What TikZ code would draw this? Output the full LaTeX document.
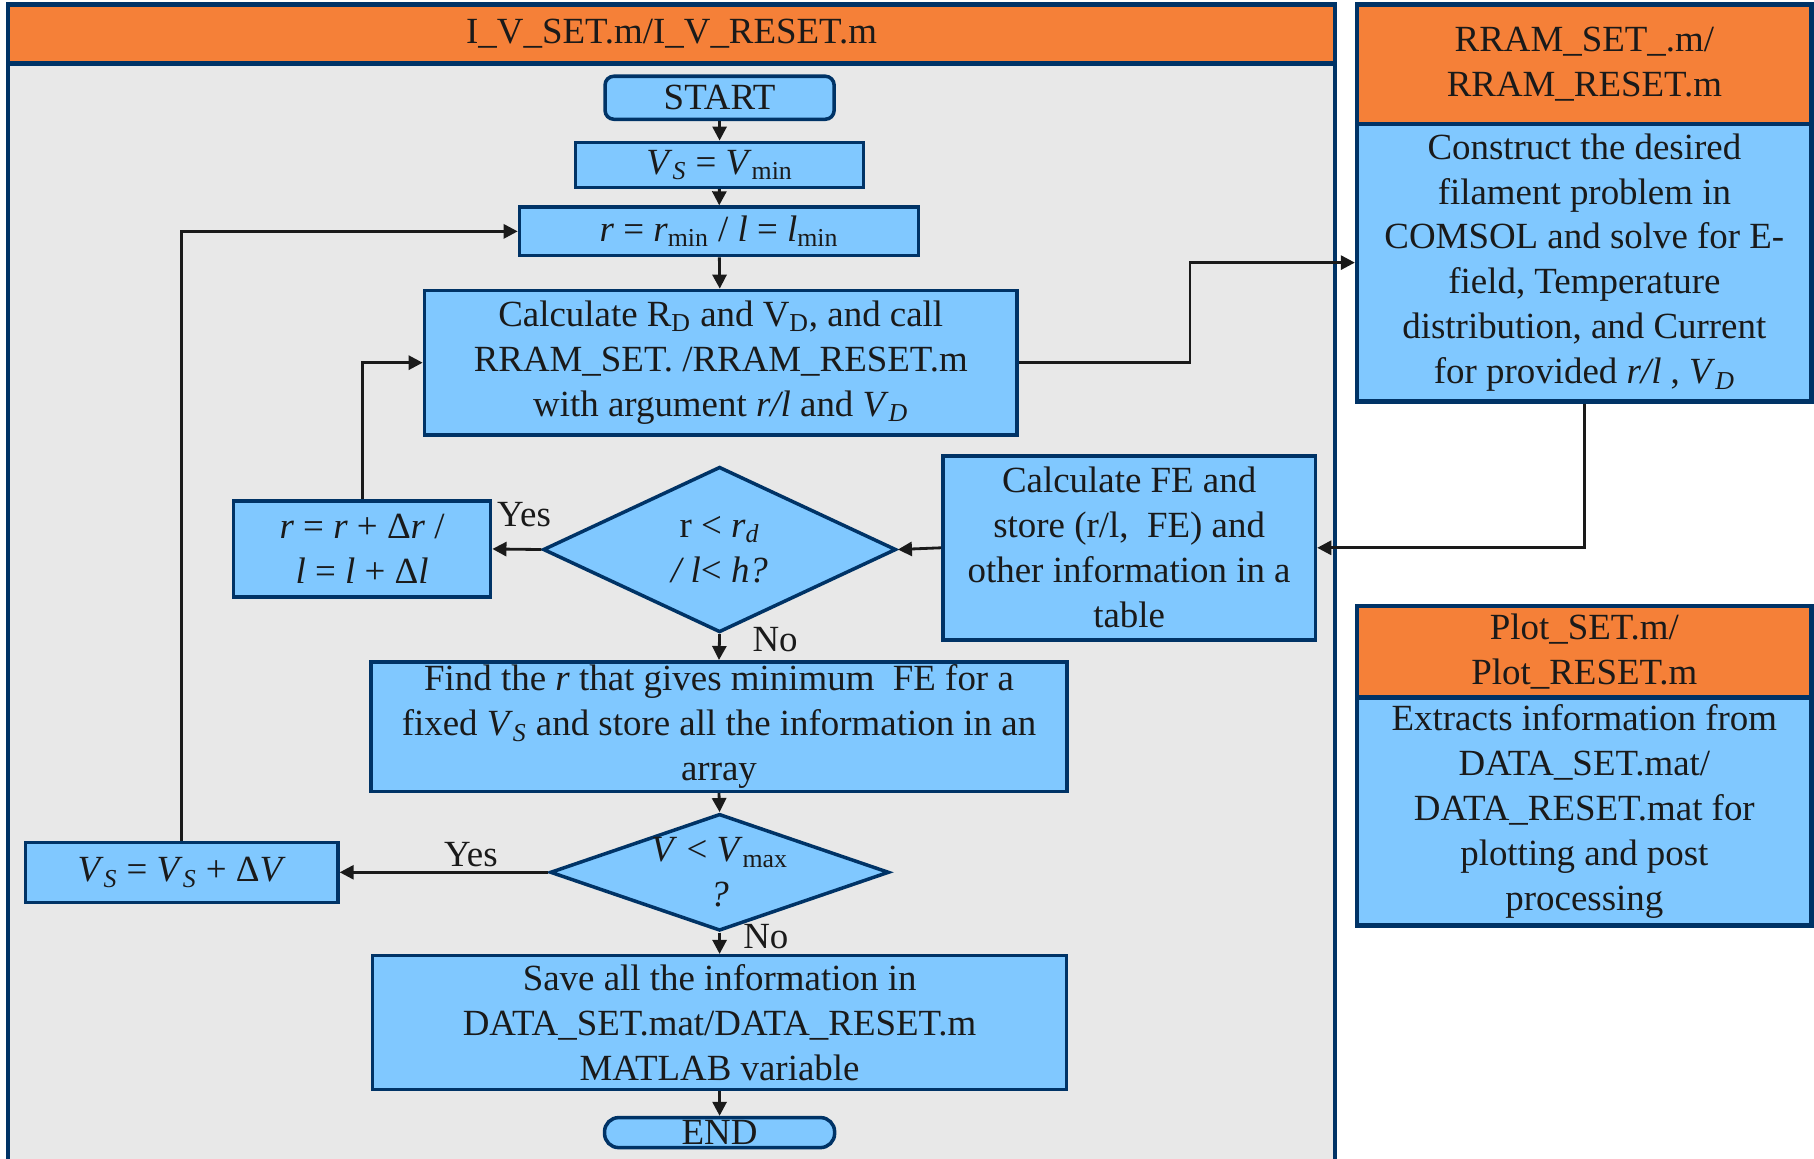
\documentclass[tikz,border=0pt]{standalone}
\usepackage{fontspec}
\setmainfont{Liberation Serif}
\usetikzlibrary{shapes.geometric,arrows.meta}
\definecolor{hdrorange}{RGB}{245,128,56}
\definecolor{boxblue}{RGB}{128,200,255}
\definecolor{edgeblue}{RGB}{0,51,102}
\definecolor{panelgray}{RGB}{232,232,232}
\definecolor{inkblack}{RGB}{26,26,26}
\newcommand\VS{\textit{V}\textsubscript{\textit{S}}}
\newcommand\VD{\textit{V}\textsubscript{\textit{D}}}

\begin{document}
\begin{tikzpicture}[x=0.023138cm, y=-0.023138cm,
    every node/.style={font=\fontsize{21}{25.6}\selectfont, text=inkblack},
    box/.style={draw=edgeblue, fill=boxblue, line width=2pt, rectangle, align=center, inner sep=0pt},
    headbox/.style={box, fill=hdrorange, line width=2.5pt},
    bodybox/.style={box, line width=2.5pt},
    decision/.style={box, diamond, aspect=2.2},
    arr/.style={draw=inkblack, line width=1.6pt, -{Triangle[length=8pt,width=8pt]}}]
    \useasboundingbox (0,0) rectangle (1568,1001);
    % main panel
    \draw[fill=panelgray, draw=edgeblue, line width=2.5pt] (7,55) rectangle (1154,1015);
    \node[headbox, minimum width=26.54cm, minimum height=1.18cm] (ivhead) at (580.5,29.5) {I\_V\_SET.m/I\_V\_RESET.m};
    % side panels
    \node[headbox, minimum width=9.09cm, minimum height=2.38cm] (rramh) at (1369.5,55.5) {RRAM\_SET\_.m/\\RRAM\_RESET.m};
    \node[bodybox, minimum width=9.09cm, minimum height=5.55cm] (rramb) at (1369.5,227) {Construct the desired\\filament problem in\\COMSOL and solve for E-\\field, Temperature\\distribution, and Current\\for provided \textit{r/l} , \VD};
    \node[headbox, minimum width=9.09cm, minimum height=1.83cm] (ploth) at (1369.5,563.5) {Plot\_SET.m/\\Plot\_RESET.m};
    \node[bodybox, minimum width=9.09cm, minimum height=4.56cm] (plotb) at (1369.5,701.5) {Extracts information from\\DATA\_SET.mat/\\DATA\_RESET.mat for\\plotting and post\\processing};
    % flow
    \node[box, rounded corners=5pt, minimum width=4.58cm, minimum height=0.86cm] (start) at (622,84.5) {START};
    \node[box, minimum width=5.76cm, minimum height=0.90cm] (vmin) at (622,142.5) {\VS{} = \textit{V}\textsubscript{min}};
    \node[box, minimum width=7.98cm, minimum height=0.97cm] (rmin) at (621.5,200) {\textit{r} = \textit{r}\textsubscript{min} / \textit{l} = \textit{l}\textsubscript{min}};
    \node[box, minimum width=11.85cm, minimum height=2.89cm] (calc) at (623,313.5) {Calculate R\textsubscript{D} and V\textsubscript{D}, and call\\RRAM\_SET. /RRAM\_RESET.m\\with argument \textit{r/l} and \VD};
    \node[decision, minimum width=7.06cm, minimum height=3.31cm] (rtest) at (622,475) {r < \textit{r}\textsubscript{\textit{d}}\\\textit{/ l}< \textit{h?}};
    \node[box, minimum width=5.14cm, minimum height=1.92cm] (rinc) at (313,474.5) {\textit{r} = \textit{r} + Δ\textit{r} /\\\textit{l} = \textit{l} + Δ\textit{l}};
    \node[box, minimum width=7.45cm, minimum height=3.68cm] (calcfe) at (976,473.5) {Calculate FE and\\store (r/l,\ \ FE) and\\other information in a\\table};
    \node[box, minimum width=13.91cm, minimum height=2.59cm] (findr) at (621.5,628) {Find the \textit{r} that gives minimum\ \ FE for a\\fixed \VS{} and store all the information in an\\array};
    \node[decision, aspect=2.9, minimum width=6.66cm, minimum height=2.31cm] (vtest) at (622,754) {\textit{V} < \textit{V}\textsubscript{max}\\\textit{?}};
    \node[box, minimum width=6.25cm, minimum height=1.20cm] (vinc) at (157,754) {\VS{} = \VS{} + Δ\textit{V}};
    \node[box, minimum width=13.88cm, minimum height=2.68cm] (save) at (622,884) {Save all the information in\\DATA\_SET.mat/DATA\_RESET.m\\MATLAB variable};
    \node[box, rounded corners=8pt, minimum width=4.60cm, minimum height=0.60cm] (finish) at (622,979) {END};
    % labels
    \node (yes1) at (453,445) {Yes};
    \node (no1) at (670,553) {No};
    \node (yes2) at (407,739) {Yes};
    \node (no2) at (662,810) {No};
    % arrows
    \draw[arr] (start) -- (vmin);
    \draw[arr] (vmin) -- (rmin);
    \draw[arr] (rmin) -- (calc);
    \draw[arr] (calc.east) -- ++(148,0) |- (rramb.west);
    \draw[arr] (rramb.south) |- (calcfe.east);
    \draw[arr] (calcfe.west) -- (rtest.east);
    \draw[arr] (rtest.west) -- (rinc.east);
    \draw[arr] (rinc.north) |- (calc.west);
    \draw[arr] (rtest.south) -- (findr.north);
    \draw[arr] (findr.south) -- (vtest.north);
    \draw[arr] (vtest.west) -- (vinc.east);
    \draw[arr] (vinc.north) |- (rmin.west);
    \draw[arr] (vtest.south) -- (save.north);
    \draw[arr] (save.south) -- (finish.north);
\end{tikzpicture}
\end{document}
